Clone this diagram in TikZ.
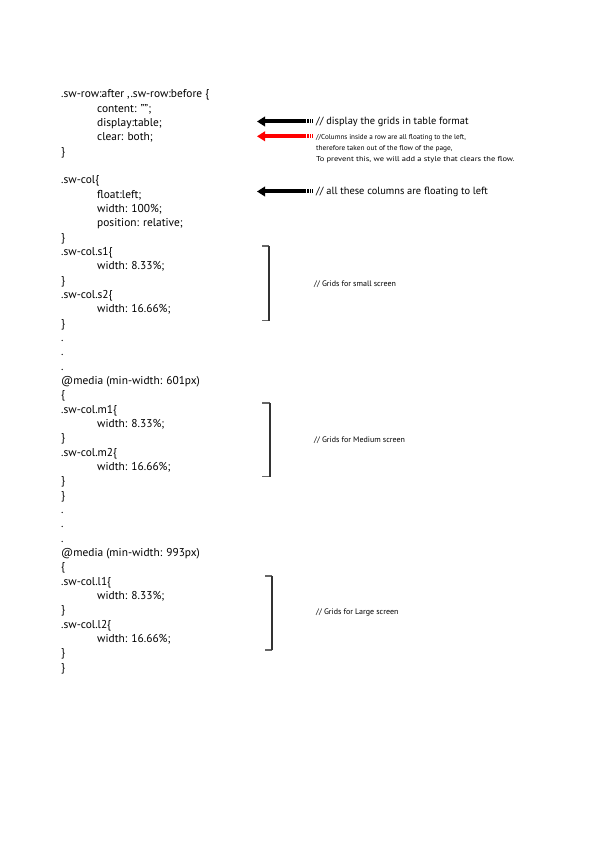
\documentclass[tikz,border=0pt]{standalone}
\usepackage{fontspec}
\setmainfont{PT Sans}
\usetikzlibrary{arrows.meta}
\begin{document}
\begin{tikzpicture}[x=1pt,y=-1pt,
  code/.style={anchor=base west,inner sep=0pt,font=\fontsize{11.4}{13}\selectfont},
  cmt/.style={anchor=base west,inner sep=0pt,font=\fontsize{10.4}{12}\selectfont},
  redcmt/.style={anchor=base west,inner sep=0pt,font=\fontsize{7.1}{9}\selectfont},
  smallcmt/.style={anchor=base west,inner sep=0pt,font=\fontsize{8}{9}\selectfont},
  arrbody/.style={line width=4pt,-{Triangle[length=8pt,width=9.5pt]}},
  arrtail/.style={line width=4pt,dash pattern=on 1.2pt off 1pt},
  brk/.style={line width=1.2pt,draw=black!80},
  tick/.style={line width=1.2pt,draw=black!60}]
\useasboundingbox[fill=white] (0,0) rectangle (596,842);
% code lines
\def\lh{14.33}
\foreach \i/\ind/\t in {
 0/0/{.sw-row:after ,.sw-row:before \{},
 1/1/{content: "";},
 2/1/{display:table;},
 3/1/{clear: both;},
 4/0/{\}},
 6/0/{.sw-col\{},
 7/1/{float:left;},
 8/1/{width: 100\%;},
 9/1/{position: relative;},
 10/0/{\}},
 11/0/{.sw-col.s1\{},
 12/1/{width: 8.33\%;},
 13/0/{\}},
 14/0/{.sw-col.s2\{},
 15/1/{width: 16.66\%;},
 16/0/{\}},
 17/0/{.},
 18/0/{.},
 19/0/{.},
 20/0/{@media (min-width: 601px)},
 21/0/{\{},
 22/0/{.sw-col.m1\{},
 23/1/{width: 8.33\%;},
 24/0/{\}},
 25/0/{.sw-col.m2\{},
 26/1/{width: 16.66\%;},
 27/0/{\}},
 28/0/{\}},
 29/0/{.},
 30/0/{.},
 31/0/{.},
 32/0/{@media (min-width: 993px)},
 33/0/{\{},
 34/0/{.sw-col.l1\{},
 35/1/{width: 8.33\%;},
 36/0/{\}},
 37/0/{.sw-col.l2\{},
 38/1/{width: 16.66\%;},
 39/0/{\}},
 40/0/{\}}}
 {\node[code] (line\i) at (61+36*\ind, 98+\lh*\i) {\t};}
% comments
\node[cmt] (c1) at (316,125) {// display the grids in table format};
\node[redcmt] (c2a) at (316,140) {//Columns inside a row are all floating to the left,};
\node[redcmt] (c2b) at (316,151) {\scalebox{1.04}[1]{therefore taken out of the flow of the page,}};
\node[redcmt] (c2c) at (316,162) {\scalebox{1.19}[1]{To prevent this, we will add a style that clears the flow.}};
\node[cmt] (c3) at (316,195) {// all these columns are floating to left};
\node[smallcmt] (c4) at (314,286) {// Grids for small screen};
\node[smallcmt] (c5) at (314,442) {// Grids for Medium screen};
\node[smallcmt] (c6) at (316,614) {// Grids for Large screen};
% arrows
\coordinate (a1t) at (313,121.5); \coordinate (a1m) at (305,121.5); \coordinate (a1h) at (257,121.5);
\coordinate (a2t) at (313,136.3); \coordinate (a2m) at (305,136.3); \coordinate (a2h) at (257,136.3);
\coordinate (a3t) at (313,191.5); \coordinate (a3m) at (305,191.5); \coordinate (a3h) at (257,191.5);
\draw[arrtail] (a1t) -- (a1m);
\draw[arrbody] (a1m) -- (a1h);
\draw[arrtail,red] (a2t) -- (a2m);
\draw[arrbody,red] (a2m) -- (a2h);
\draw[arrtail] (a3t) -- (a3m);
\draw[arrbody] (a3m) -- (a3h);
% brackets
\coordinate (b1a) at (262,246); \coordinate (b1b) at (269,246); \coordinate (b1c) at (269,320.5); \coordinate (b1d) at (262,320.5);
\coordinate (b2a) at (262,403); \coordinate (b2b) at (270,403); \coordinate (b2c) at (270,476.5); \coordinate (b2d) at (262,476.5);
\coordinate (b3a) at (265,576); \coordinate (b3b) at (272,576); \coordinate (b3c) at (272,650); \coordinate (b3d) at (265,650);
\foreach \b in {1,2,3}{
  \draw[tick] (b\b a) -- (b\b b);
  \draw[tick] (b\b c) -- (b\b d);
  \draw[brk] (b\b b) -- (b\b c);
}
\end{tikzpicture}
\end{document}
